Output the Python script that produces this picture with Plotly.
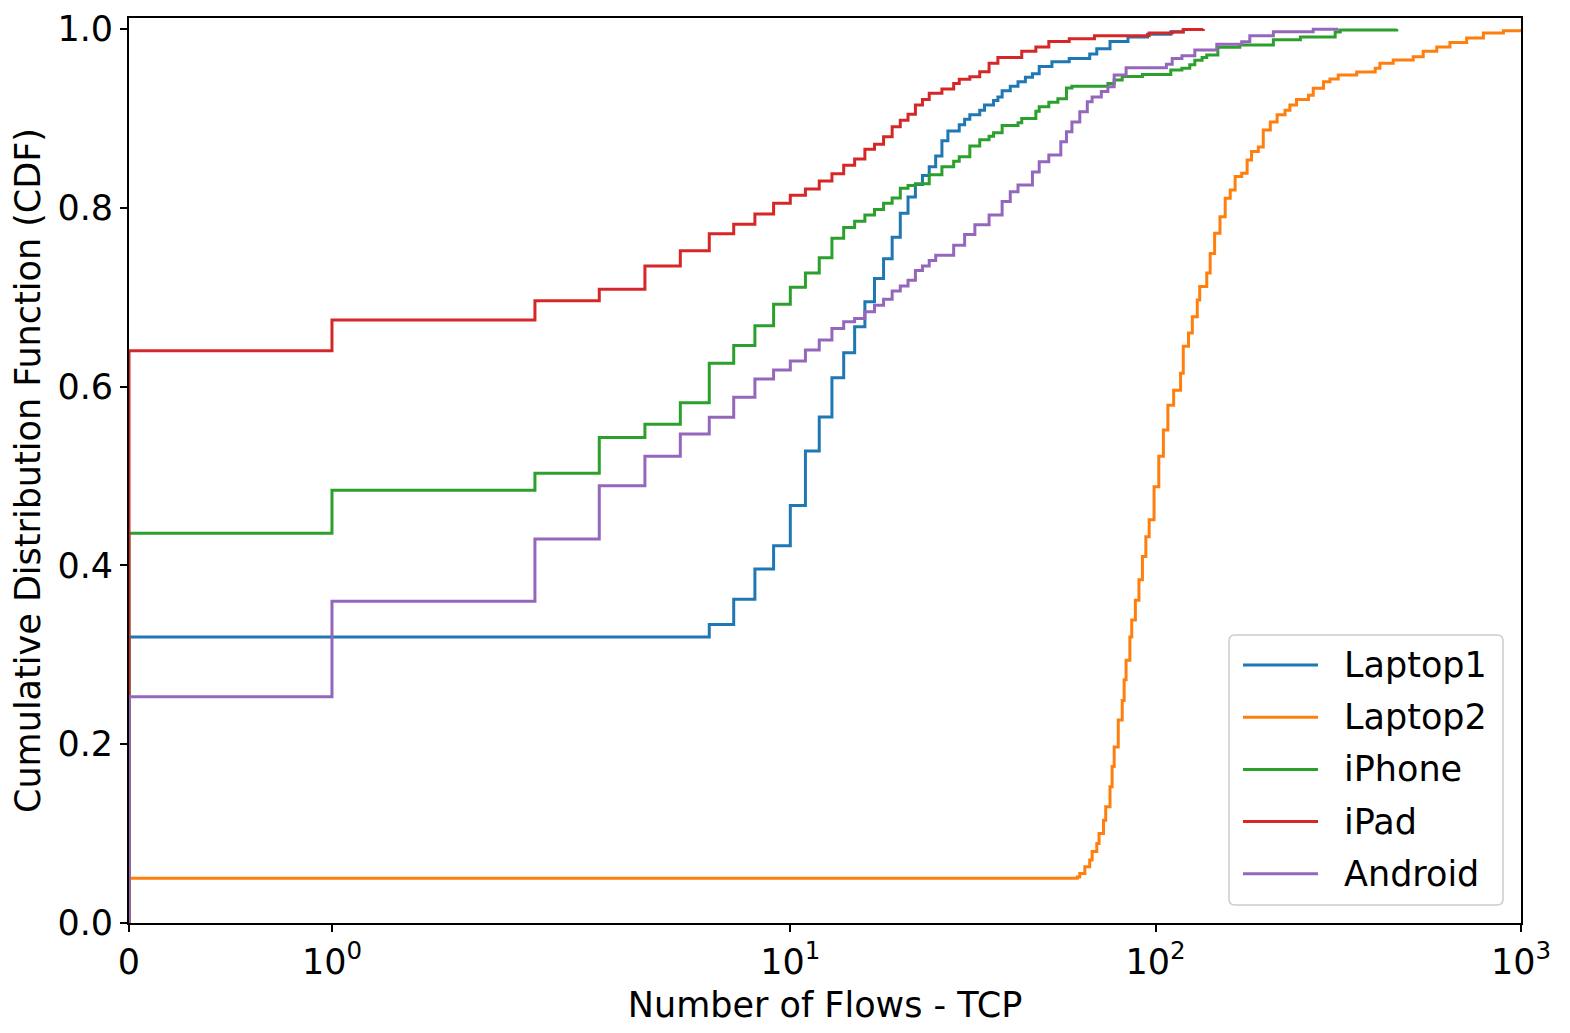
import numpy as np
import plotly.graph_objects as go

# 每台设备的TCP流数量与累计分布(CDF)
devices = ['Laptop1', 'Laptop2', 'iPhone', 'iPad', 'Android']
colors = ['#1f77b4', '#ff7f0e', '#2ca02c', '#d62728', '#9467bd']

laptop1_flows = [0, 6, 7, 8, 9, 10, 11, 12, 13, 14, 15, 16, 17, 18, 19, 20, 21, 22, 23, 24,
                 25, 26, 27, 29, 30, 31, 33, 34, 36, 37, 38, 40, 42, 44, 46, 48, 52, 58, 66,
                 69, 75, 84, 95, 110, 119]
laptop1_cdf = [0.320, 0.334, 0.362, 0.396, 0.422, 0.467, 0.528, 0.566, 0.610, 0.638, 0.667,
               0.695, 0.721, 0.743, 0.767, 0.794, 0.812, 0.826, 0.836, 0.846, 0.858, 0.875,
               0.886, 0.893, 0.899, 0.904, 0.909, 0.915, 0.920, 0.924, 0.931, 0.936, 0.941,
               0.946, 0.950, 0.958, 0.9635, 0.967, 0.972, 0.978, 0.986, 0.991, 0.994, 0.997, 1.0]

laptop2_flows = [0, 61, 62, 64, 66, 67, 69, 70, 72, 73, 75, 76, 77, 79, 81, 82, 83, 85, 86,
                 88, 90, 92, 94, 96, 99, 102, 105, 108, 112, 117, 119, 123, 126, 130, 132,
                 138, 141, 145, 150, 155, 160, 165, 172, 178, 183, 191, 197, 206, 215, 226,
                 233, 243, 262, 270, 288, 300, 316, 355, 399, 411, 447, 507, 540, 588, 639,
                 710, 789, 895, 1000]
laptop2_cdf = [0.050, 0.0515, 0.0555, 0.063, 0.0705, 0.080, 0.089, 0.100, 0.115, 0.130, 0.1525,
               0.175, 0.197, 0.227, 0.249, 0.272, 0.294, 0.320, 0.339, 0.361, 0.384, 0.410,
               0.432, 0.451, 0.488, 0.522, 0.5515, 0.579, 0.596, 0.615, 0.645, 0.660, 0.678,
               0.697, 0.712, 0.727, 0.749, 0.7715, 0.790, 0.8106, 0.820, 0.835, 0.8386,
               0.8535, 0.863, 0.868, 0.887, 0.896, 0.904, 0.909, 0.915, 0.921, 0.926, 0.9336,
               0.941, 0.944, 0.9485, 0.952, 0.956, 0.9616, 0.9653, 0.969, 0.975, 0.980,
               0.985, 0.990, 0.9955, 0.998, 1.0]

iphone_flows = [0, 1, 2, 3, 4, 5, 6, 7, 8, 9, 10, 11, 12, 13, 14, 15, 16, 17, 18, 19, 20, 21,
                22, 24, 26, 28, 29, 31, 33, 35, 36, 38, 42, 43, 47, 48, 51, 54, 57, 59, 74,
                77, 81, 92, 110, 118, 124, 128, 134, 138, 148, 170, 210, 249, 310, 320, 457]
iphone_cdf = [0.436, 0.484, 0.503, 0.543, 0.558, 0.582, 0.626, 0.646, 0.668, 0.692, 0.711,
              0.727, 0.744, 0.766, 0.778, 0.785, 0.792, 0.798, 0.805, 0.811, 0.822, 0.825,
              0.827, 0.837, 0.846, 0.852, 0.857, 0.869, 0.876, 0.880, 0.884, 0.892, 0.895,
              0.900, 0.908, 0.913, 0.918, 0.922, 0.934, 0.936, 0.939, 0.943, 0.947, 0.949,
              0.954, 0.956, 0.960, 0.965, 0.968, 0.971, 0.9795, 0.982, 0.988, 0.991, 0.9966,
              0.999, 1.0]

ipad_flows = [0, 1, 2, 3, 4, 5, 6, 7, 8, 9, 10, 11, 12, 13, 14, 15, 16, 17, 18, 19, 20, 21,
              22, 23, 24, 26, 28, 29, 31, 33, 35, 37, 43, 47, 51, 58, 68, 96, 111, 119, 135]
ipad_cdf = [0.640, 0.6745, 0.696, 0.709, 0.735, 0.752, 0.771, 0.7815, 0.793, 0.805, 0.814,
            0.821, 0.830, 0.838, 0.8475, 0.8546, 0.8654, 0.871, 0.8796, 0.8907, 0.898,
            0.9046, 0.915, 0.921, 0.928, 0.933, 0.939, 0.9437, 0.9467, 0.9523, 0.9616, 0.968,
            0.975, 0.980, 0.986, 0.989, 0.9925, 0.9955, 0.9966, 0.9995, 1.0]

android_flows = [0, 1, 2, 3, 4, 5, 6, 7, 8, 9, 10, 11, 12, 13, 14, 15, 16, 17, 18, 19, 20,
                 21, 22, 23, 24, 25, 28, 30, 32, 35, 38, 40, 42, 46, 48, 51, 55, 57, 59, 62,
                 65, 67, 71, 74, 77, 83, 107, 111, 118, 128, 147, 172, 181, 210, 270, 316]
android_cdf = [0.253, 0.360, 0.4295, 0.489, 0.522, 0.547, 0.5656, 0.588, 0.6085, 0.6186,
               0.6286, 0.641, 0.652, 0.665, 0.6726, 0.6763, 0.6838, 0.691, 0.6976, 0.707,
               0.7125, 0.719, 0.730, 0.735, 0.741, 0.747, 0.758, 0.770, 0.781, 0.792, 0.807,
               0.818, 0.8255, 0.840, 0.8516, 0.859, 0.874, 0.885, 0.896, 0.9075, 0.9187,
               0.924, 0.930, 0.9355, 0.9485, 0.9567, 0.9605, 0.967, 0.970, 0.9765, 0.983,
               0.9858, 0.9925, 0.997, 0.9996, 1.0]

all_flows = [laptop1_flows, laptop2_flows, iphone_flows, ipad_flows, android_flows]
all_cdf = [laptop1_cdf, laptop2_cdf, iphone_cdf, ipad_cdf, android_cdf]

x_ticks = [0, 1, 10, 100, 1000]
x_tick_text = ['0', '10<sup>0</sup>', '10<sup>1</sup>', '10<sup>2</sup>', '10<sup>3</sup>']
y_ticks = [0.0, 0.2, 0.4, 0.6, 0.8, 1.0]


# 对称对数坐标 (symlog, linthresh=2, linscale=1)
def symlog(v, linthresh=2.0, linscale=1.0):
    v = np.asarray(v, dtype=float)
    lin = linscale / (1 - 1 / 10)
    return np.where(v <= linthresh, v / linthresh * lin,
                    lin + np.log10(np.maximum(v, linthresh) / linthresh))


FONT = 'DejaVu Sans'
FS = 35

# 绘图区大小(像素)，用于把图例位置换算成paper坐标
W, H = 1562, 1025
ML, MR, MT, MB = 121, 49, 10, 110
PW, PH = W - ML - MR, H - MT - MB


def px(x):
    return x / PW


def py(y):
    return 1 - y / PH


fig = go.Figure()
for name, color, flows, cdf in zip(devices, colors, all_flows, all_cdf):
    xs = [0] + flows
    ys = [0] + cdf
    fig.add_trace(go.Scatter(
        x=symlog(xs),
        y=ys,
        customdata=xs,
        mode='lines',
        name=name,
        showlegend=False,
        line=dict(color=color, width=3, shape='hv'),
        hovertemplate='%{customdata} flows<br>CDF %{y:.3f}<extra>' + name + '</extra>',
    ))

# 图例(仿matplotlib样式)：圆角框 + 线段 + 文字
bx0, bx1, by0, by1, r = 1100, 1374, 617, 887, 6
rx, ry = r / PW, r / PH
x0, x1, y0, y1 = px(bx0), px(bx1), py(by1), py(by0)
box_path = (f'M{x0 + rx},{y0} L{x1 - rx},{y0} Q{x1},{y0} {x1},{y0 + ry} '
            f'L{x1},{y1 - ry} Q{x1},{y1} {x1 - rx},{y1} L{x0 + rx},{y1} '
            f'Q{x0},{y1} {x0},{y1 - ry} L{x0},{y0 + ry} Q{x0},{y0} {x0 + rx},{y0} Z')
shapes = [dict(type='path', path=box_path, xref='paper', yref='paper',
               fillcolor='rgba(255,255,255,0.8)', line=dict(color='#cccccc', width=1.5),
               layer='above')]
annotations = []
for i, (name, color) in enumerate(zip(devices, colors)):
    yy = py(647 + i * 52.2)
    shapes.append(dict(type='line', xref='paper', yref='paper', x0=px(1114), x1=px(1189),
                       y0=yy, y1=yy, line=dict(color=color, width=3), layer='above'))
    annotations.append(dict(text=name, xref='paper', yref='paper', x=px(1213), y=yy,
                            xanchor='left', yanchor='middle', showarrow=False,
                            font=dict(family=FONT, size=FS, color='black')))

fig.update_layout(
    width=W,
    height=H,
    margin=dict(l=ML, r=MR, t=MT, b=MB, autoexpand=False),
    paper_bgcolor='white',
    plot_bgcolor='white',
    font=dict(family=FONT, size=FS, color='black'),
    showlegend=False,
    shapes=shapes,
    annotations=annotations,
)

fig.update_xaxes(
    range=[0, float(symlog(1000))],
    tickvals=symlog(x_ticks),
    ticktext=x_tick_text,
    tickfont=dict(family=FONT, size=FS, color='black'),
    ticks='outside', ticklen=7, tickwidth=1.8, tickcolor='black',
    showline=True, linecolor='black', linewidth=1.8, mirror=True,
    showgrid=False, zeroline=False, automargin=False,
    layer='below traces',
    title=dict(text='Number of Flows - TCP', font=dict(size=FS), standoff=12),
)
fig.update_yaxes(
    range=[0, 1.0123],
    tickvals=y_ticks,
    tickformat='.1f',
    tickfont=dict(family=FONT, size=FS, color='black'),
    ticks='outside', ticklen=7, tickwidth=1.8, tickcolor='black',
    showline=True, linecolor='black', linewidth=1.8, mirror=True,
    showgrid=False, zeroline=False, automargin=False,
    layer='below traces',
    title=dict(text='Cumulative Distribution Function (CDF)', font=dict(size=FS), standoff=12),
)

fig.write_html('out.html')
